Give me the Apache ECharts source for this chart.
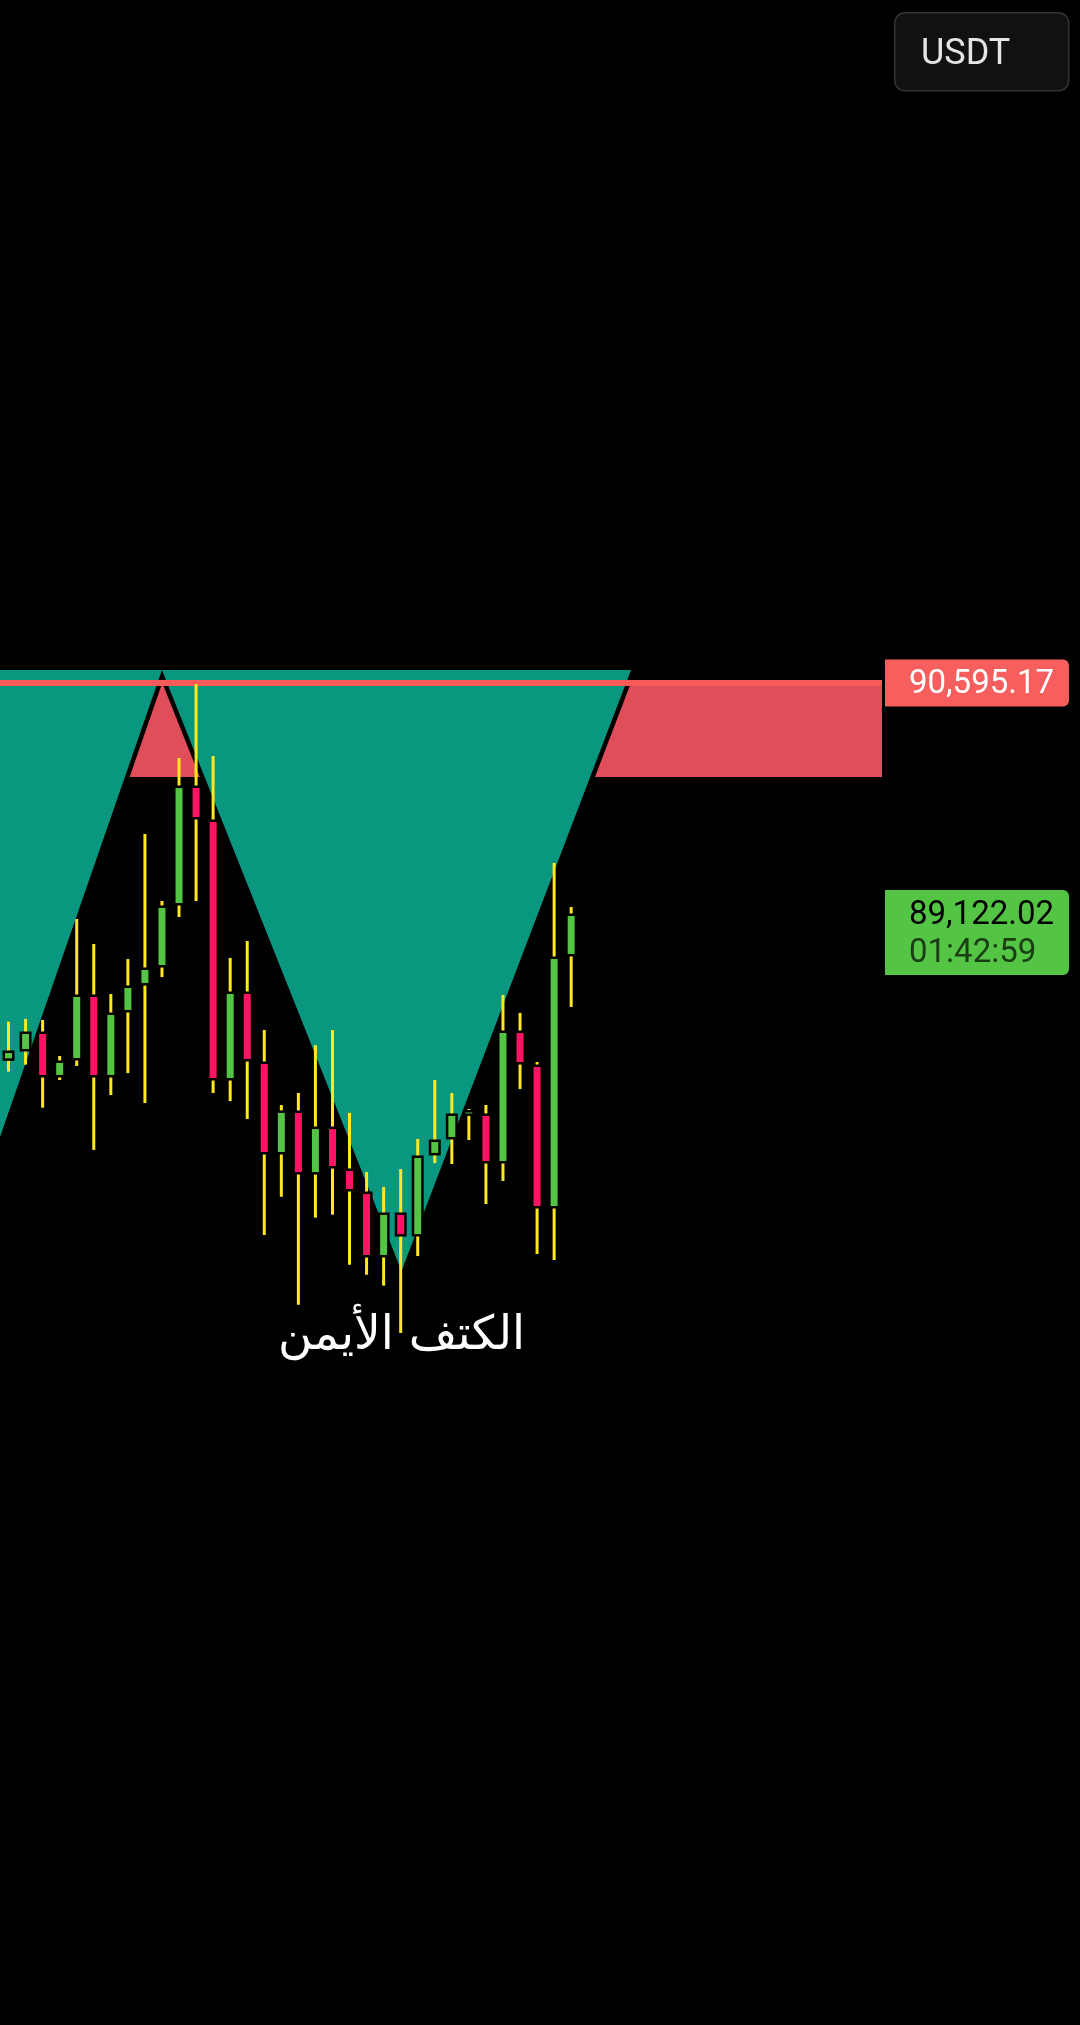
<!DOCTYPE html>
<html>
<head>
<meta charset="utf-8">
<style>
  html, body { margin: 0; padding: 0; background: #000; }
  #chart { width: 1080px; height: 2025px; }
</style>
<script src="https://cdn.jsdelivr.net/npm/echarts/dist/echarts.min.js"></script>
</head>
<body>
<div id="chart"></div>
<script>
// candles, oldest -> newest
var opens  = [88222, 88281, 88376, 88117, 88224, 88610, 88117, 88528, 88698, 88812,
              89204, 89931, 89716, 88098, 88629, 88186, 87630, 87877, 87503, 87775,
              87510, 87364, 86979, 87232, 87111, 87624, 87725, 87874, 87858, 87573,
              88382, 88167, 87289, 88882]
var closes = [88256, 88376, 88117, 88193, 88610, 88117, 88496, 88667, 88781, 89173,
              89931, 89748, 88098, 88629, 88218, 87630, 87877, 87503, 87775, 87541,
              87396, 86979, 87232, 87111, 87592, 87693, 87858, 87880, 87573, 88382,
              88199, 87289, 88850, 89122.02]
var highs  = [88454, 88471, 88465, 88237, 89103, 88945, 88629, 88850, 89640, 89217,
              90121, 90589, 90134, 88857, 88964, 88401, 87927, 88003, 88306, 88401,
              87877, 87503, 87409, 87522, 87712, 88085, 88003, 87902, 87927, 88623,
              88509, 88199, 89457, 89179]
var lows   = [88138, 88182, 87910, 88085, 88174, 87643, 87990, 88129, 87940, 88736,
              89116, 89217, 88003, 87952, 87839, 87105, 87347, 86664, 87215, 87234,
              86917, 86854, 86785, 86486, 86972, 87560, 87554, 87706, 87301, 87447,
              88028, 86985, 86947, 88547]

// drawings (candle index, price)
var leftShoulderX = [-30, 9.0, -4.02]
var leftShoulderY = [90677, 90677, 86631]
var rightShoulderX = [9.0, 36.51, 23.05]
var rightShoulderY = [90677, 90677, 86878]
var zoneStart = -1
var zoneTop = 90595.17
var zoneBottom = 90001
var noteText = 'الكتف الأيمن'
var noteX = 23.05
var noteY = 86460

var lastPrice = '89,122.02'
var countdown = '01:42:59'
var levelPrice = '90,595.17'
var quote = 'USDT'

var X_MIN = -0.5
var X_MAX = 51.23

var GREEN = '#53c443'
var PINK = '#ff1464'
var WICK = '#ffe81f'
var TEAL = '#0a977f'

var candleData = opens.map(function (o, i) {
  return [i, o, closes[i], lows[i], highs[i]]
})

function poly (api, xs, ys) {
  return xs.map(function (x, i) { return api.coord([x, ys[i]]) })
}

var option = {
  backgroundColor: '#000',
  animation: false,
  grid: { left: 0, right: 198, top: 0, bottom: 0 },
  xAxis: { type: 'value', min: X_MIN, max: X_MAX, show: false },
  yAxis: { type: 'value', min: 82110.4, max: 94913.5, show: false },
  series: [
    {
      // pattern drawings
      type: 'custom',
      z: 1,
      data: [[0, 0]],
      renderItem: function (params, api) {
        var zTL = api.coord([zoneStart, zoneTop])
        var zBR = api.coord([X_MAX, zoneBottom])
        var lineL = api.coord([X_MIN, zoneTop])
        var lineR = api.coord([X_MAX, zoneTop])
        var left = poly(api, leftShoulderX, leftShoulderY)
        var right = poly(api, rightShoulderX, rightShoulderY)
        var note = api.coord([noteX, noteY])
        return {
          type: 'group',
          children: [
            { type: 'rect', shape: { x: zTL[0], y: zTL[1], width: zBR[0] - zTL[0], height: zBR[1] - zTL[1] }, style: { fill: '#e04e5a' } },
            { type: 'polygon', shape: { points: left }, style: { fill: '#000', stroke: '#000', lineWidth: 9 } },
            { type: 'polygon', shape: { points: right }, style: { fill: '#000', stroke: '#000', lineWidth: 9 } },
            { type: 'polygon', shape: { points: left }, style: { fill: TEAL } },
            { type: 'polygon', shape: { points: right }, style: { fill: TEAL } },
            { type: 'line', shape: { x1: lineL[0], y1: lineL[1], x2: lineR[0], y2: lineR[1] }, style: { stroke: '#f85a5a', lineWidth: 6 } },
            { type: 'text', x: note[0], y: note[1], style: { text: noteText, fill: '#fff', fontSize: 47, fontFamily: 'DejaVu Sans', align: 'center', verticalAlign: 'middle' } }
          ]
        }
      }
    },
    {
      type: 'custom',
      z: 5,
      data: candleData,
      renderItem: function (params, api) {
        var i = api.value(0)
        var o = api.value(1), c = api.value(2), l = api.value(3), h = api.value(4)
        var pO = api.coord([i, o])
        var pC = api.coord([i, c])
        var pL = api.coord([i, l])
        var pH = api.coord([i, h])
        var x = pO[0]
        var top = Math.min(pO[1], pC[1])
        var bot = Math.max(pO[1], pC[1])
        return {
          type: 'group',
          children: [
            { type: 'rect', shape: { x: x - 1.5, y: pH[1], width: 3, height: pL[1] - pH[1] }, style: { fill: WICK } },
            { type: 'rect', shape: { x: x - 6, y: top - 2.5, width: 12, height: bot - top + 5 }, style: { fill: '#000' } },
            { type: 'rect', shape: { x: x - 3.5, y: top, width: 7, height: Math.max(bot - top, 0.5) }, style: { fill: c >= o ? GREEN : PINK } }
          ]
        }
      }
    }
  ]
}

var chart = echarts.init(document.getElementById('chart'))
chart.setOption(option)

var yLevel = chart.convertToPixel({ yAxisIndex: 0 }, 90595.17)
var yLast = chart.convertToPixel({ yAxisIndex: 0 }, closes[closes.length - 1])

chart.setOption({
  graphic: [
    { type: 'rect', left: 894, top: 12, shape: { width: 174, height: 78, r: 10 }, style: { fill: '#111', stroke: '#333', lineWidth: 1.5 } },
    { type: 'text', x: 921, y: 55, style: { text: quote, fill: '#e4e4e4', fontSize: 36, fontFamily: 'Roboto', verticalAlign: 'middle' } },

    { type: 'rect', x: 885, y: yLevel - 23.5, shape: { width: 184, height: 47, r: [0, 6, 6, 0] }, style: { fill: '#f75e5e' } },
    { type: 'text', x: 909, y: yLevel + 2, style: { text: levelPrice, fill: '#fff', fontSize: 33, fontFamily: 'Roboto', verticalAlign: 'middle' } },

    { type: 'rect', x: 885, y: yLast - 26, shape: { width: 184, height: 85, r: [0, 6, 6, 0] }, style: { fill: GREEN } },
    { type: 'text', x: 909, y: yLast, style: { text: lastPrice, fill: '#000', fontSize: 33, fontFamily: 'Roboto', verticalAlign: 'middle' } },
    { type: 'text', x: 909, y: yLast + 38, style: { text: countdown, fill: '#1b3d14', fontSize: 33, fontFamily: 'Roboto', verticalAlign: 'middle' } }
  ]
})
</script>
</body>
</html>
